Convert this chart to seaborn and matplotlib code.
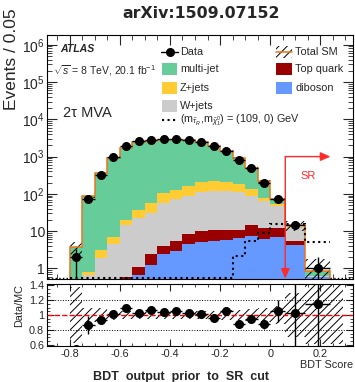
import numpy as np
import pandas as pd
import matplotlib
matplotlib.use("Agg")
import matplotlib.pyplot as plt
import seaborn as sns
from matplotlib.patches import Rectangle
from matplotlib.lines import Line2D
from matplotlib.ticker import FixedLocator, MultipleLocator, LogLocator, NullFormatter, FixedFormatter

# ---------------- data ----------------
bin_edges = [-0.8, -0.75, -0.7, -0.65, -0.6, -0.55, -0.5, -0.45, -0.4, -0.35,
             -0.3, -0.25, -0.2, -0.15, -0.1, -0.05, 0.0, 0.06, 0.14, 0.24]
processes = ["multi-jet", "Z+jets", "W+jets", "Top quark", "diboson"]
multijet = [3.66, 85.2, 350.9, 930.9, 1725, 2493, 2562, 2765, 2714, 2598,
            2265, 1752, 1166, 752, 371, 136, 16.2, 1.0, 0.25]
zjets = [0, 0.15, 1.24, 2.6, 5.3, 14.8, 27, 47, 53, 72, 93, 107, 96, 76, 46, 15, 8, 0.3, 0]
wjets = [0, 0.65, 1.86, 4.2, 13.9, 20.8, 28.6, 54, 67, 81, 102, 110, 107, 101, 76, 53, 35, 8.0, 0.02]
topquark = [0, 0, 0, 0.3, 0.6, 0.44, 1.17, 1.55, 2.6, 4.1, 5.0, 5.3, 4.9, 4.2, 7.0, 5.8, 4.7, 1.1, 0]
diboson = [0, 0, 0, 0, 0, 0.66, 1.23, 2.4, 3.0, 4.4, 5.0, 5.4, 5.8, 6.5, 7.4, 6.0, 7.1, 4.2, 0.6]
data_counts = [2, 74, 330, 950, 1900, 2600, 2800, 3000, 3000, 2850, 2500, 1900,
               1450, 830, 480, 190, 75, 15, 1]
signal = [0, 0, 0, 0, 0, 0, 0, 0, 0, 0, 0, 0, 0, 2.2, 5.4, 8.7, 16, 16, 5.0]
mc_unc_up = [0.37, 0.10, 0.09, 0.07, 0.055, 0.055, 0.055, 0.055, 0.055, 0.055,
             0.06, 0.06, 0.065, 0.07, 0.08, 0.09, 0.12, 0.30, 1.0]
mc_unc_dn = [0.37, 0.10, 0.09, 0.07, 0.055, 0.055, 0.055, 0.055, 0.055, 0.055,
             0.06, 0.06, 0.065, 0.07, 0.08, 0.09, 0.12, 0.30, 0.39]
ratio_err = [0, 0.12, 0.055, 0.035, 0.025, 0.02, 0.02, 0.02, 0.02, 0.02, 0.02,
             0.022, 0.028, 0.035, 0.045, 0.07, 0.15, 0.6, 1.2]
ratio_band_last_edge = 0.29
xticks = [-0.8, -0.6, -0.4, -0.2, 0.0, 0.2]
xtick_labels = ["-0.8", "-0.6", "-0.4", "-0.2", "0", "0.2"]
yticks_main = [1, 10, 1e2, 1e3, 1e4, 1e5, 1e6]
ytick_main_labels = ["1", "10", r"$10^{2}$", r"$10^{3}$", r"$10^{4}$", r"$10^{5}$", r"$10^{6}$"]
yticks_ratio = [0.6, 0.8, 1.0, 1.2, 1.4]
ytick_ratio_labels = ["0.6", "0.8", "1", "1.2", "1.4"]
sr_cut = 0.06
signal_label = r"(m$_{\tilde{\tau}_{R}}$,m$_{\tilde{\chi}^{0}_{1}}$) = (109, 0) GeV"

colors = {"multi-jet": "#66cc99", "Z+jets": "#ffcc33", "W+jets": "#cccccc",
          "Top quark": "#990000", "diboson": "#6699ff"}
orange = "#e8751a"

# ---------------- style ----------------
sns.set_theme(style="ticks")
plt.rcParams["font.family"] = ["Liberation Sans", "DejaVu Sans"]
plt.rcParams["mathtext.fontset"] = "custom"
plt.rcParams["mathtext.rm"] = "Liberation Sans"
plt.rcParams["mathtext.it"] = "Liberation Sans:italic"
plt.rcParams["mathtext.bf"] = "Liberation Sans:bold"
plt.rcParams["hatch.linewidth"] = 0.7
plt.rcParams["hatch.color"] = "black"

W, H = 355, 382
def fx(px):
    return px / W
def fy(py):
    return 1 - py / H

fig = plt.figure(figsize=(W / 100, H / 100), dpi=100)
ax = fig.add_axes([fx(47), fy(279), fx(353) - fx(47), fy(35) - fy(279)])
rax = fig.add_axes([fx(47), fy(346), fx(353) - fx(47), fy(284) - fy(346)])

edges = np.array(bin_edges)
centers = 0.5 * (edges[:-1] + edges[1:])
halfw = 0.5 * np.diff(edges)
comp = {"multi-jet": multijet, "Z+jets": zjets, "W+jets": wjets,
        "Top quark": topquark, "diboson": diboson}
rows = []
for p in processes:
    for c, v in zip(centers, comp[p]):
        rows.append({"x": c, "w": v, "process": p})
df = pd.DataFrame(rows)
total = np.sum([np.array(comp[p]) for p in processes], axis=0)
data = np.array(data_counts, dtype=float)

ymin, ymax = 0.52, 1.83e6
ax.set_yscale("log")
sns.histplot(data=df, x="x", weights="w", hue="process", hue_order=processes,
             bins=bin_edges, multiple="stack", element="step", fill=True,
             alpha=1, linewidth=0, palette=colors, ax=ax, legend=False)

# MC uncertainty hatch
up = np.array(mc_unc_up); dn = np.array(mc_unc_dn)
ax.bar(edges[:-1], total * (up + dn), width=np.diff(edges), bottom=total * (1 - dn),
       align="edge", fill=False, hatch="////", edgecolor="black", linewidth=0, zorder=3)
# total SM outline
ax.stairs(total, edges, baseline=1e-3, color=orange, linewidth=1.1, zorder=4)
# signal
sig = np.clip(np.array(signal), ymin * 1.04, None)
ax.stairs(sig, edges, baseline=None, color="black", linestyle=":", linewidth=1.5, zorder=5)
ax.plot([-0.9, edges[0]], [ymin * 1.04] * 2, color="black", ls=":", lw=1.0, zorder=5)
ax.plot([edges[-1], 0.35], [ymin * 1.04] * 2, color="black", ls=":", lw=1.0, zorder=5)
# data
yerr_lo = np.minimum(np.sqrt(data), data - 1e-6)
ax.errorbar(centers, data, yerr=[yerr_lo, np.sqrt(data)], xerr=halfw, fmt="o",
            color="black", ms=5.5, elinewidth=1, capsize=0, zorder=6)

# SR arrows
red = "#ff2a2a"
ax.annotate("", xy=(sr_cut, ymin * 1.02), xytext=(sr_cut, 1000),
            arrowprops=dict(arrowstyle="-|>,head_length=0.5,head_width=0.22", color=red,
                            lw=1, shrinkA=0, shrinkB=0), zorder=7)
ax.annotate("", xy=(0.24, 1000), xytext=(sr_cut, 1000),
            arrowprops=dict(arrowstyle="-|>,head_length=0.5,head_width=0.22", color=red,
                            lw=1, shrinkA=0, shrinkB=0), zorder=7)
ax.text(0.15, 300, "SR", color=red, fontsize=8, ha="center", va="center")

ax.set_xlim(-0.89, 0.33)
ax.set_ylim(ymin, ymax)
ax.set_xlabel("")
ax.set_ylabel("Events / 0.05", fontsize=12.5, loc="top")
ax.yaxis.set_label_coords(-0.09, 1.11)
ax.xaxis.set_major_locator(FixedLocator(xticks))
ax.xaxis.set_minor_locator(MultipleLocator(0.05))
ax.set_xticklabels([])
ax.yaxis.set_major_locator(FixedLocator(yticks_main))
ax.yaxis.set_major_formatter(FixedFormatter(ytick_main_labels))
ax.yaxis.set_minor_locator(LogLocator(base=10, subs=np.arange(2, 10)))
ax.yaxis.set_minor_formatter(NullFormatter())
ax.tick_params(which="both", direction="in", top=True, right=True, labelsize=10, pad=1.5)
ax.tick_params(which="major", length=7, width=0.8)
ax.tick_params(which="minor", length=3.5, width=0.6)
for s in ax.spines.values():
    s.set_linewidth(0.8); s.set_color("black")

# ---------------- ratio ----------------
ratio = data / total
bedges = edges.copy(); bedges[-1] = ratio_band_last_edge
rax.bar(bedges[:-1], up + dn, width=np.diff(bedges), bottom=1 - dn, align="edge",
        fill=False, hatch="////", edgecolor="black", linewidth=0, zorder=2)
rax.axhline(1.2, color="black", ls=":", lw=0.7, zorder=1)
rax.axhline(0.8, color="black", ls=":", lw=0.7, zorder=1)
rax.axhline(1.0, color="red", ls="--", lw=1.0, zorder=3)
rax.errorbar(centers, ratio, yerr=ratio_err, xerr=halfw, fmt="o", color="black",
             ms=5.5, elinewidth=1, capsize=0, zorder=4)
rax.set_xlim(-0.89, 0.33)
rax.set_ylim(0.585, 1.415)
rax.xaxis.set_major_locator(FixedLocator(xticks))
rax.xaxis.set_major_formatter(FixedFormatter(xtick_labels))
rax.xaxis.set_minor_locator(MultipleLocator(0.05))
rax.yaxis.set_major_locator(FixedLocator(yticks_ratio))
rax.yaxis.set_major_formatter(FixedFormatter(ytick_ratio_labels))
rax.yaxis.set_minor_locator(MultipleLocator(0.05))
rax.tick_params(which="both", direction="in", top=True, right=True, labelsize=7.8, pad=2)
rax.tick_params(which="major", length=5, width=0.8)
rax.tick_params(which="minor", length=2.5, width=0.6)
rax.set_ylabel("Data/MC", fontsize=7.8, loc="top")
rax.yaxis.set_label_coords(-0.076, 1.0)
for s in rax.spines.values():
    s.set_linewidth(0.8); s.set_color("black")

# ---------------- legend (drawn in figure pixels) ----------------
def patch(px, py, w, color=None, hatch=None):
    r = Rectangle((fx(px), fy(py + 6)), w / W, 12 / H, transform=fig.transFigure,
                  facecolor=color if color else "none", edgecolor="black" if hatch else "none",
                  hatch=hatch, linewidth=0)
    fig.add_artist(r)

def label(px, py, txt):
    fig.text(fx(px), fy(py), txt, fontsize=7.8, ha="left", va="center")

fig.add_artist(Line2D([fx(161), fx(178)], [fy(51.7)] * 2, transform=fig.transFigure,
                      color="black", lw=1))
fig.add_artist(Line2D([fx(169.5)], [fy(51.7)], transform=fig.transFigure, marker="o",
                      ms=5.5, color="black", lw=0))
label(180, 51.7, "Data")
for py, p in zip([69.3, 88, 106], ["multi-jet", "Z+jets", "W+jets"]):
    patch(162, py, 15, colors[p]); label(180, py, p)
fig.add_artist(Line2D([fx(162), fx(178)], [fy(120)] * 2, transform=fig.transFigure,
                      color="black", lw=1.5, ls=":"))
label(180, 120, signal_label)
patch(276, 51.7, 16, None, "////")
fig.add_artist(Line2D([fx(276), fx(292)], [fy(51.7)] * 2, transform=fig.transFigure,
                      color=orange, lw=1.1))
label(295, 51.7, "Total SM")
for py, p in zip([69.3, 88], ["Top quark", "diboson"]):
    patch(276, py, 16, colors[p]); label(295, py, p)

# ---------------- texts ----------------
fig.text(fx(60), fy(49.3), "ATLAS", fontsize=7.6, fontweight="bold", fontstyle="italic",
         ha="left", va="center")
fig.text(fx(53), fy(71), r"$\sqrt{s}$ = 8 TeV, 20.1 fb$^{-1}$", fontsize=7.5,
         ha="left", va="center")
fig.text(fx(63), fy(113), "2τ MVA", fontsize=10.5, ha="left", va="center")
fig.text(fx(201), fy(13), "arXiv:1509.07152", fontsize=11.3, fontweight="bold",
         family="DejaVu Sans", ha="center", va="center")
fig.text(fx(353), fy(365), "BDT Score", fontsize=7.8, ha="right", va="center")
fig.text(fx(181), fy(377), "BDT  output  prior  to  SR  cut", fontsize=9,
         fontweight="bold", ha="center", va="center")

fig.savefig("out.png", dpi=100)
